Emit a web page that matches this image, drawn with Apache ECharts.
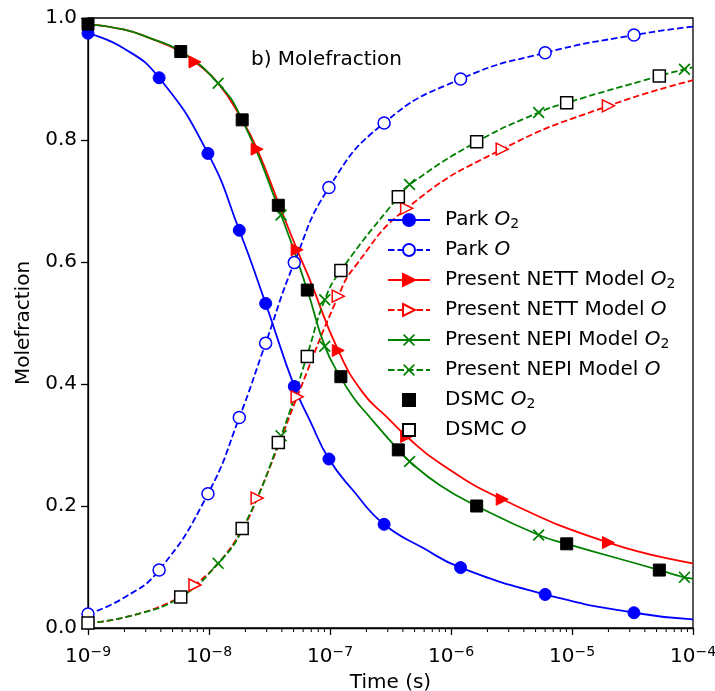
<!DOCTYPE html>
<html>
<head>
<meta charset="utf-8">
<script src="https://cdn.jsdelivr.net/npm/echarts@6/dist/echarts.min.js"></script>
<style>
  html, body { margin: 0; padding: 0; background: #fff; }
  #chart { width: 715px; height: 691px; }
</style>
</head>
<body>
<div id="chart"></div>
<script>
// Mole fraction histories: [time (s), mole fraction, marker shown (1) or not (0)]
const parkO2 = [
  [1e-9, 0.975, 1], [1.95e-9, 0.951, 0], [3.87e-9, 0.902, 1], [9.8e-9, 0.778, 1],
  [1.78e-8, 0.652, 1], [2.94e-8, 0.532, 1], [5.07e-8, 0.396, 1], [6.9e-8, 0.338, 0],
  [9.8e-8, 0.277, 1], [1.56e-7, 0.225, 0], [2.8e-7, 0.170, 1], [5.9e-7, 0.131, 0],
  [1.2e-6, 0.099, 1], [6.0e-6, 0.055, 1], [3.25e-5, 0.025, 1], [1e-4, 0.014, 0]
];
const parkO = [
  [1e-9, 0.023, 1], [2.0e-9, 0.050, 0], [3.87e-9, 0.095, 1], [9.8e-9, 0.220, 1],
  [1.78e-8, 0.345, 1], [2.94e-8, 0.467, 1], [5.07e-8, 0.599, 1], [9.8e-8, 0.722, 1],
  [2.8e-7, 0.828, 1], [1.2e-6, 0.900, 1], [6.0e-6, 0.943, 1], [3.25e-5, 0.972, 1],
  [1e-4, 0.986, 0]
];
const nettO2 = [
  [1e-9, 0.990, 0], [2.0e-9, 0.981, 0], [3.25e-9, 0.967, 0], [5.84e-9, 0.945, 0],
  [7.66e-9, 0.928, 1], [1.19e-8, 0.893, 0], [1.88e-8, 0.833, 0], [2.5e-8, 0.785, 1],
  [3.9e-8, 0.688, 0], [5.35e-8, 0.620, 1], [6.84e-8, 0.570, 0], [1.17e-7, 0.455, 1],
  [1.88e-7, 0.385, 0], [2.94e-7, 0.346, 0], [4.3e-7, 0.314, 1], [8.1e-7, 0.270, 0],
  [2.65e-6, 0.211, 1], [2.0e-5, 0.140, 1], [1e-4, 0.106, 0]
];
const nettO = [
  [1e-9, 0.008, 0], [2.37e-9, 0.021, 0], [5.84e-9, 0.051, 0], [7.66e-9, 0.0705, 1],
  [1.19e-8, 0.106, 0], [1.9e-8, 0.163, 0], [2.5e-8, 0.213, 1], [3.9e-8, 0.308, 0],
  [5.35e-8, 0.379, 1], [1.17e-7, 0.544, 1], [1.6e-7, 0.592, 0], [4.3e-7, 0.688, 1],
  [2.65e-6, 0.785, 1], [2.0e-5, 0.856, 1], [1e-4, 0.898, 0]
];
const nepiO2 = [
  [1e-9, 0.990, 0], [2.0e-9, 0.981, 0], [3.25e-9, 0.967, 0], [5.84e-9, 0.945, 0],
  [1.19e-8, 0.893, 1], [1.88e-8, 0.833, 0], [3.94e-8, 0.677, 1], [6.49e-8, 0.554, 0],
  [9.05e-8, 0.462, 1], [1.23e-7, 0.410, 0], [1.6e-7, 0.375, 0], [2.0e-7, 0.352, 0],
  [3.67e-7, 0.292, 0], [4.55e-7, 0.273, 1], [8.1e-7, 0.234, 0], [1.63e-6, 0.200, 0],
  [5.3e-6, 0.1525, 1], [9.04e-6, 0.138, 0], [5.27e-5, 0.095, 0], [8.5e-5, 0.083, 1],
  [1e-4, 0.081, 0]
];
const nepiO = [
  [1e-9, 0.008, 0], [2.37e-9, 0.021, 0], [5.84e-9, 0.051, 0], [1.19e-8, 0.106, 1],
  [1.9e-8, 0.163, 0], [3.94e-8, 0.315, 1], [6.43e-8, 0.445, 0], [9.05e-8, 0.538, 1],
  [1.23e-7, 0.586, 0], [3.67e-7, 0.707, 0], [4.55e-7, 0.727, 1], [1.63e-6, 0.797, 0],
  [5.3e-6, 0.845, 1], [9.04e-6, 0.861, 0], [5.27e-5, 0.905, 0], [8.5e-5, 0.916, 1],
  [1e-4, 0.919, 0]
];
// DSMC samples
const dsmcTime = [1e-9, 5.84e-9, 1.88e-8, 3.74e-8, 6.49e-8, 1.23e-7, 3.67e-7, 1.63e-6, 9.04e-6, 5.27e-5];
const dsmcO2 = [0.990, 0.945, 0.833, 0.693, 0.554, 0.412, 0.292, 0.200, 0.138, 0.095];
const dsmcO = [0.008, 0.051, 0.163, 0.304, 0.445, 0.586, 0.707, 0.797, 0.861, 0.905];

// Axis ticks
const yTicks = [0, 0.2, 0.4, 0.6, 0.8, 1.0];
const decades = [-9, -8, -7, -6, -5];
const minorSteps = [2, 3, 4, 5, 6, 7, 8, 9];
const minorTickValues = [];
decades.forEach(function (e) {
  minorSteps.forEach(function (m) { minorTickValues.push(m * Math.pow(10, e)); });
});

const FONT = 'DejaVu Sans';
const SYM_TRI = 'path://M0,0L10,5L0,10Z';
const SYM_X = 'path://M0,1L1,0L5,4L9,0L10,1L6,5L10,9L9,10L5,6L1,10L0,9L4,5Z';

function curve(name, pts, color, dashed, symbol, open, size) {
  return {
    name: name,
    type: 'line',
    smooth: 0.5,
    symbol: symbol,
    symbolSize: size,
    showAllSymbol: true,
    data: pts.map(function (p) {
      return p[2] ? { value: [p[0], p[1]] } : { value: [p[0], p[1]], symbol: 'none' };
    }),
    lineStyle: { color: color, width: 1.8, type: dashed ? [6.5, 3] : 'solid' },
    itemStyle: open
      ? { color: '#fff', borderColor: color, borderWidth: 1.5 }
      : { color: color, borderColor: color, borderWidth: symbol === SYM_X ? 0 : 1 },
    emphasis: { disabled: true }
  };
}

function dsmc(name, values, open) {
  return {
    name: name,
    type: 'line',
    symbol: 'rect',
    symbolSize: 12,
    showAllSymbol: true,
    data: dsmcTime.map(function (t, i) { return [t, values[i]]; }),
    lineStyle: { opacity: 0, width: 0 },
    itemStyle: open
      ? { color: '#fff', borderColor: '#000', borderWidth: 1.5 }
      : { color: '#000', borderColor: '#000', borderWidth: 1 },
    emphasis: { disabled: true }
  };
}

const names = [
  'Park O2', 'Park O', 'Present NETT Model O2', 'Present NETT Model O',
  'Present NEPI Model O2', 'Present NEPI Model O', 'DSMC O2', 'DSMC O'
];

const chart = echarts.init(document.getElementById('chart'));
chart.setOption({
  animation: false,
  backgroundColor: '#fff',
  textStyle: { fontFamily: FONT },
  title: {
    text: 'b) Molefraction',
    left: 251, top: 50, padding: 0,
    textStyle: { fontFamily: FONT, fontSize: 20, fontWeight: 'normal', color: '#000' }
  },
  grid: {
    left: 88, top: 18, width: 605, height: 610,
    outerBoundsMode: 'none', containLabel: false,
    show: true, borderColor: '#000', borderWidth: 1.3, backgroundColor: 'transparent'
  },
  legend: {
    data: names,
    orient: 'vertical',
    left: 387, top: 209,
    padding: 0,
    itemWidth: 42, itemHeight: 15, itemGap: 8,
    selectedMode: false,
    formatter: function (n) {
      return n.replace(/ O2$/, ' {i|O}{s|2}').replace(/ O$/, ' {i|O}');
    },
    textStyle: {
      fontFamily: FONT, fontSize: 20, color: '#000', lineHeight: 22,
      padding: [0, 0, 0, 10],
      rich: {
        i: { fontFamily: FONT, fontSize: 20, fontStyle: 'italic', color: '#000', lineHeight: 22 },
        s: { fontFamily: FONT, fontSize: 14, color: '#000', padding: [8, 0, 0, 0] }
      }
    }
  },
  xAxis: {
    type: 'log', logBase: 10, min: 1e-9, max: 1e-4,
    name: 'Time (s)', nameLocation: 'middle', nameGap: 45,
    nameTextStyle: { fontFamily: FONT, fontSize: 20, color: '#000' },
    axisLine: { lineStyle: { color: '#000', width: 1.3 } },
    axisTick: { length: 7, lineStyle: { color: '#000', width: 1.3 } },
    splitLine: { show: false },
    axisLabel: {
      margin: 17, color: '#000',
      formatter: function (v) {
        const e = Math.round(Math.log10(v));
        return '{b|10}{s|' + (e < 0 ? '\u2212' : '') + Math.abs(e) + '}';
      },
      rich: {
        b: { fontFamily: FONT, fontSize: 20, color: '#000' },
        s: { fontFamily: FONT, fontSize: 14, color: '#000', padding: [0, 0, 10, 0] }
      }
    }
  },
  yAxis: {
    type: 'value', min: 0, max: 1, interval: 0.2,
    name: 'Molefraction', nameLocation: 'middle', nameGap: 52,
    nameTextStyle: { fontFamily: FONT, fontSize: 20, color: '#000' },
    axisLine: { show: true, lineStyle: { color: '#000', width: 1.3 } },
    axisTick: { show: true, length: 7, lineStyle: { color: '#000', width: 1.3 } },
    splitLine: { show: false },
    axisLabel: {
      margin: 11, color: '#000', fontFamily: FONT, fontSize: 20,
      formatter: function (v) { return v.toFixed(1); }
    }
  },
  series: [
    curve('Park O2', parkO2, '#0000ff', false, 'circle', false, 12),
    curve('Park O', parkO, '#0000ff', true, 'circle', true, 12),
    curve('Present NETT Model O2', nettO2, '#ff0000', false, SYM_TRI, false, 12),
    curve('Present NETT Model O', nettO, '#ff0000', true, SYM_TRI, true, 12),
    curve('Present NEPI Model O2', nepiO2, '#008000', false, SYM_X, false, 12),
    curve('Present NEPI Model O', nepiO, '#008000', true, SYM_X, false, 12),
    dsmc('DSMC O2', dsmcO2, false),
    dsmc('DSMC O', dsmcO, true),
    {
      name: 'minor ticks',
      type: 'custom',
      silent: true,
      clip: false,
      data: minorTickValues.map(function (v) { return [v, 0]; }),
      renderItem: function (params, api) {
        const p = api.coord([api.value(0), 0]);
        return {
          type: 'line',
          shape: { x1: p[0], y1: p[1], x2: p[0], y2: p[1] + 4 },
          style: { stroke: '#000', lineWidth: 1 }
        };
      }
    }
  ]
});
</script>
</body>
</html>
